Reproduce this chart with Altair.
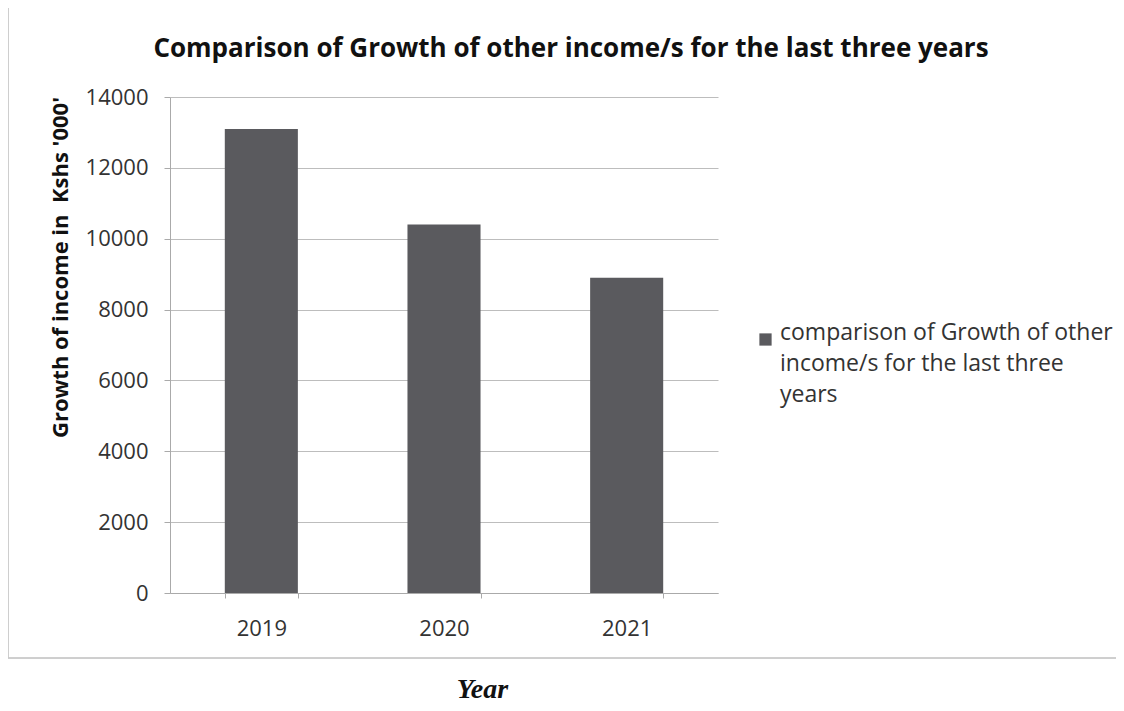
import altair as alt
import pandas as pd

years = ["2019", "2020", "2021"]
values = [13100, 10400, 8900]
series_name = "comparison of Growth of other income/s for the last three years"
legend_lines = ["comparison of Growth of other", "income/s for the last three", "years"]

df = pd.DataFrame({"year": years, "value": values, "series": [series_name] * len(years)})

FONT = "Open Sans"
W, H = 548, 496

bars = alt.Chart(df).mark_bar(color="#5a5a5e").encode(
    x=alt.X(
        "year:N",
        scale=alt.Scale(paddingInner=0.6, paddingOuter=0.3),
        axis=alt.Axis(
            title="Year",
            labelAngle=0,
            labelFont=FONT,
            labelFontSize=22,
            labelColor="#333333",
            labelPadding=20,
            tickBand="extent",
            tickSize=5,
            tickColor="#aaaaaa",
            domainColor="#aaaaaa",
            grid=False,
            titleFont="Liberation Serif",
            titleFontStyle="italic",
            titleFontWeight="bold",
            titleFontSize=28,
            titleColor="#111111",
            titleX=312,
            titleY=104,
            titleBaseline="alphabetic",
        ),
    ),
    y=alt.Y(
        "value:Q",
        scale=alt.Scale(domain=[0, 14000]),
        axis=alt.Axis(
            title="Growth of income in\u00a0\u00a0Kshs '000'",
            values=list(range(0, 14001, 2000)),
            format="d",
            labelFont=FONT,
            labelFontSize=22,
            labelColor="#333333",
            labelPadding=16,
            tickSize=6,
            tickColor="#aaaaaa",
            domainColor="#aaaaaa",
            gridColor="#bdbdbd",
            titleFont=FONT,
            titleFontSize=22,
            titleFontWeight="bold",
            titleColor="#111111",
            titleX=-110,
            titleY=170,
            titleAngle=270,
            titleBaseline="middle",
        ),
    ),
    color=alt.Color(
        "series:N",
        scale=alt.Scale(domain=[series_name], range=["#5a5a5e"]),
        legend=alt.Legend(
            title=None,
            orient="none",
            legendX=584,
            legendY=231,
            symbolType="square",
            symbolSize=150,
            symbolStrokeWidth=0,
            labelFont=FONT,
            labelFontSize=23,
            labelColor="#333333",
            labelLimit=500,
            labelOffset=3,
            labelBaseline="alphabetic",
            labelExpr=str(legend_lines),
        ),
    ),
)

frame = alt.Chart(df).mark_rect(fill=None, stroke="#c8c8c8", strokeWidth=1).encode(
    x=alt.value(-162), x2=alt.value(960), y=alt.value(-92), y2=alt.value(561)
)

chart = alt.layer(frame, bars).properties(
    width=W,
    height=H,
    autosize=alt.AutoSizeParams(type="none"),
    padding={"left": 162, "top": 89, "right": 398, "bottom": 110},
    background="white",
    title=alt.TitleParams(
        text="Comparison of Growth of other income/s for the last three years",
        font=FONT,
        fontSize=26,
        fontWeight="bold",
        color="#111111",
        anchor="middle",
        frame="group",
        dx=127,
        offset=-78,
        baseline="alphabetic",
    ),
).configure(
    style={"guide-label": {"lineHeight": 31}},
    view={"strokeWidth": 0},
)

chart.save("out.html", embed_options={"renderer": "svg", "actions": False})
